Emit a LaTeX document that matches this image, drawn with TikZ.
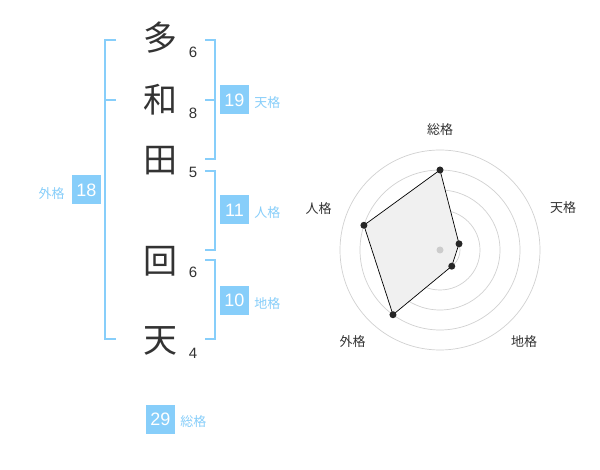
\documentclass[tikz,border=0pt]{standalone}
\usepackage{fontspec}
\setmainfont{Liberation Sans}
\newfontfamily\jpfont{Noto Sans CJK JP}
\usepackage{tikz}
\usetikzlibrary{positioning}
\definecolor{kakublue}{HTML}{87CEFA}

\begin{document}
\begin{tikzpicture}[
    x=1pt,
    y=-1pt,
    kanji/.style={
      font=\jpfont\fontsize{34}{34}\selectfont,
      text=black!80,
      inner sep=0pt
    },
    strokes/.style={
      font=\fontsize{15}{15}\selectfont,
      text=black!80,
      inner sep=0pt
    },
    kakubox/.style={
      fill=kakublue,
      text=white,
      font=\fontsize{18}{18}\selectfont,
      minimum width=29pt,
      minimum height=29pt,
      inner sep=0pt
    },
    kakulabel/.style={
      text=kakublue,
      font=\jpfont\fontsize{13}{13}\selectfont,
      inner sep=0pt
    },
    axislabel/.style={
      text=black!80,
      font=\jpfont\fontsize{13}{13}\selectfont,
      inner sep=0pt
    },
    bracket/.style={
      draw=kakublue,
      line width=2pt
    },
    ring/.style={
      draw=black!18,
      line width=0.7pt
    },
    mydot/.style={
      circle,
      fill=black!85,
      inner sep=0pt,
      minimum size=7pt
    }
    ]
    \path[fill=white,use as bounding box] (0,0) rectangle (600,470);

    % name and stroke counts
    \node[kanji] (k1) at (160,38) {多};
    \node[kanji] (k2) at (160,100) {和};
    \node[kanji] (k3) at (160,161) {田};
    \node[kanji] (k4) at (160,261) {回};
    \node[kanji] (k5) at (160,341) {天};

    \node[strokes] (s1) at (193,52) {6};
    \node[strokes] (s2) at (193,113) {8};
    \node[strokes] (s3) at (193,172) {5};
    \node[strokes] (s4) at (193,272) {6};
    \node[strokes] (s5) at (193,353) {4};

    % brackets
    \coordinate (l1) at (105,40);
    \coordinate (l2) at (105,100);
    \coordinate (l3) at (105,339);
    \draw[bracket] ([xshift=11pt]l1) -- (l1) -- (l3) -- ([xshift=11pt]l3);
    \draw[bracket] (l2) -- ([xshift=11pt]l2);

    \coordinate (r1) at (215,40);
    \coordinate (r2) at (215,100);
    \coordinate (r3) at (215,159);
    \coordinate (r4) at (215,171);
    \coordinate (r5) at (215,250);
    \coordinate (r6) at (215,260);
    \coordinate (r7) at (215,339);
    \draw[bracket] ([xshift=-10pt]r1) -- (r1) -- (r3) -- ([xshift=-10pt]r3);
    \draw[bracket] ([xshift=-10pt]r2) -- (r2);
    \draw[bracket] ([xshift=-10pt]r4) -- (r4) -- (r5) -- ([xshift=-10pt]r5);
    \draw[bracket] ([xshift=-10pt]r6) -- (r6) -- (r7) -- ([xshift=-10pt]r7);

    % totals
    \node[kakubox] (ten) at (234.5,100) {19};
    \node[kakubox] (jin) at (234.5,210) {11};
    \node[kakubox] (chi) at (234.5,300.5) {10};
    \node[kakubox] (gai) at (86.5,190) {18};
    \node[kakubox] (sou) at (160.5,419) {29};

    \node[kakulabel,right=5pt of ten,yshift=-3pt] (tenl) {天格};
    \node[kakulabel,right=5pt of jin,yshift=-3pt] (jinl) {人格};
    \node[kakulabel,right=5pt of chi,yshift=-3pt] (chil) {地格};
    \node[kakulabel,left=7pt of gai,yshift=-4pt] (gail) {外格};
    \node[kakulabel,right=5pt of sou,yshift=-3pt] (soul) {総格};

    % radar chart
    \begin{scope}[shift={(440,250)},yscale=-1]
      \coordinate (c) at (0,0);
      \draw[ring] (c) circle[radius=20];
      \draw[ring] (c) circle[radius=40];
      \draw[ring] (c) circle[radius=60];
      \draw[ring] (c) circle[radius=80];
      \draw[ring] (c) circle[radius=100];

      \coordinate (p1) at (90:80);
      \coordinate (p2) at (18:20);
      \coordinate (p3) at (-54:20);
      \coordinate (p4) at (-126:80);
      \coordinate (p5) at (162:80);
      \filldraw[fill=black!6,draw=black,line width=0.7pt]
        (p1) -- (p2) -- (p3) -- (p4) -- (p5) -- cycle;

      \node[mydot,fill=black!20] (c0) at (c) {};
      \node[mydot] (d1) at (p1) {};
      \node[mydot] (d2) at (p2) {};
      \node[mydot] (d3) at (p3) {};
      \node[mydot] (d4) at (p4) {};
      \node[mydot] (d5) at (p5) {};
    \end{scope}

    \node[axislabel] (a1) at (440,130) {総格};
    \node[axislabel] (a2) at (563,208) {天格};
    \node[axislabel] (a3) at (524,342) {地格};
    \node[axislabel] (a4) at (352.5,342) {外格};
    \node[axislabel] (a5) at (318.5,209) {人格};

\end{tikzpicture}
\end{document}
